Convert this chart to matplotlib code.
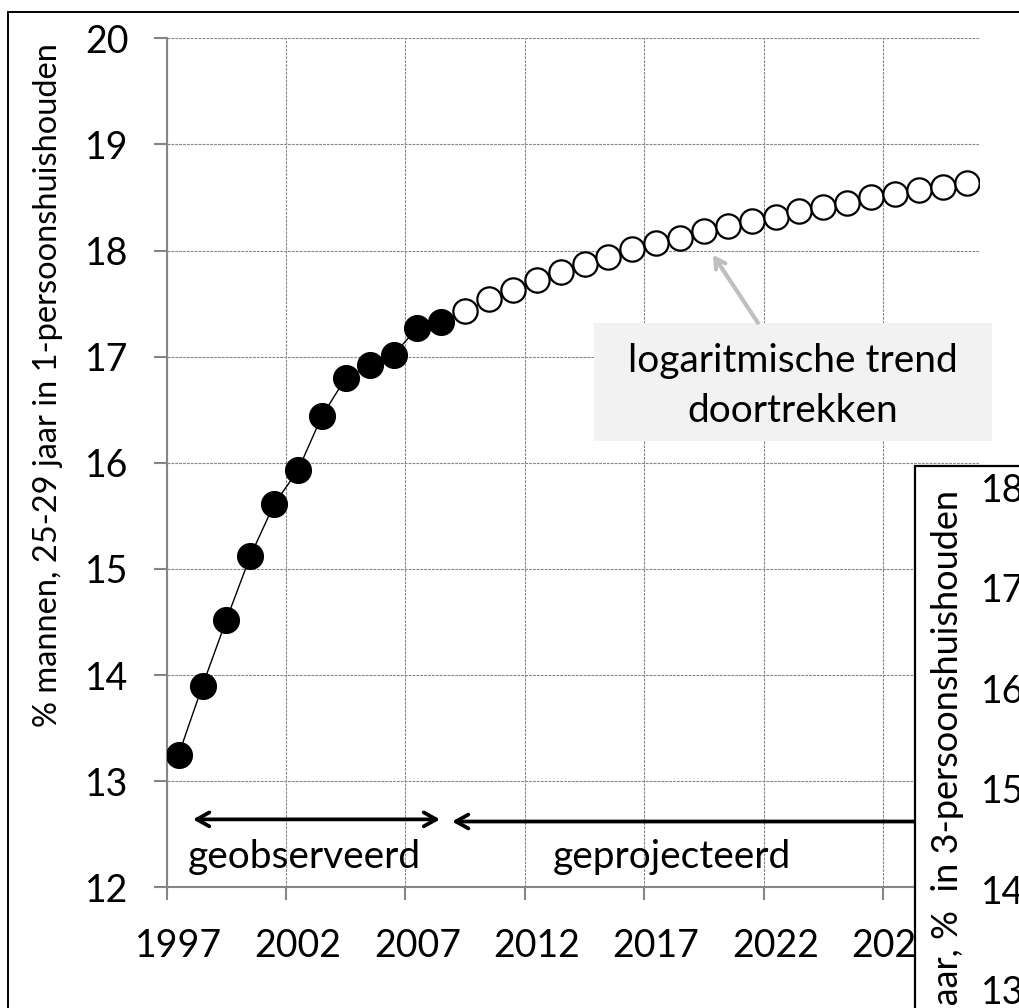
import numpy as np
import matplotlib
matplotlib.use("Agg")
import matplotlib.pyplot as plt
from matplotlib.patches import Rectangle
from matplotlib.ticker import FixedLocator, FixedFormatter, NullFormatter

plt.rcParams['font.family'] = ['Lato', 'DejaVu Sans']

# data: % men aged 25-29 living in a 1-person household
obs_years = list(range(1997, 2009))
obs_values = [13.25, 13.90, 14.52, 15.12, 15.61, 15.93, 16.44, 16.80, 16.92, 17.02, 17.27, 17.33]
proj_years = list(range(2009, 2031))
proj_values = [17.43, 17.54, 17.63, 17.72, 17.80, 17.87, 17.94, 18.01, 18.07, 18.12, 18.18,
               18.23, 18.28, 18.32, 18.37, 18.41, 18.45, 18.50, 18.53, 18.57, 18.60, 18.64]
label_years = [1997, 2002, 2007, 2012, 2017, 2022, 2027]
y_ticks = [12, 13, 14, 15, 16, 17, 18, 19, 20]
inset_ticks = [13, 14, 15, 16, 17, 18]

W, H = 1019, 1008
fig = plt.figure(figsize=(W / 100, H / 100), dpi=100)

def fx(px):
    return px / W

def fy(py):
    return 1 - py / H

grey = '#868686'
ax = fig.add_axes([fx(166.7), fy(887.3), fx(978.5 - 166.7), (887.3 - 38.3) / H])
ax.set_zorder(0)

all_years = obs_years + proj_years
all_values = obs_values + proj_values
ax.plot(all_years, all_values, color='black', lw=1.0, zorder=2)
ax.plot(obs_years, obs_values, 'o', ms=18.5, mfc='black', mec='black', mew=1, zorder=3)
ax.plot(proj_years, proj_values, 'o', ms=17.5, mfc='white', mec='black', mew=1.6, zorder=3)

ax.set_xlim(obs_years[0] - 0.5, proj_years[-1] + 0.5)
ax.set_ylim(y_ticks[0], y_ticks[-1])

# category-style x axis: ticks between categories, labels on categories
ax.xaxis.set_major_locator(FixedLocator([y - 0.5 for y in label_years]))
ax.xaxis.set_major_formatter(NullFormatter())
ax.xaxis.set_minor_locator(FixedLocator(label_years))
ax.xaxis.set_minor_formatter(FixedFormatter([str(y) for y in label_years]))
ax.tick_params(axis='x', which='major', length=9.5, width=1.5, color=grey)
ax.tick_params(axis='x', which='minor', length=0, labelsize=27, pad=29)
ax.set_yticks(y_ticks)
ax.tick_params(axis='y', length=9.5, width=1.5, color=grey, labelsize=27, pad=18)

ax.grid(True, which='major', color=grey, lw=0.8, ls=(0, (2.5, 1)))
for s in ['top', 'right']:
    ax.spines[s].set_visible(False)
for s in ['left', 'bottom']:
    ax.spines[s].set_color(grey)
    ax.spines[s].set_linewidth(1.5)
ax.set_axisbelow(True)

ax.set_ylabel('% mannen, 25-29 jaar in 1-persoonshuishouden', fontsize=23.5)
ax.yaxis.set_label_coords(fx(48), fy(385), transform=fig.transFigure)
ax.yaxis.label.set(ha='center', va='center')

# observed / projected arrows
ax.annotate('', xy=(1997.6, 12.64), xytext=(2007.95, 12.64),
            arrowprops=dict(arrowstyle='<->,head_length=0.9,head_width=0.5', lw=2.7, color='black',
                            shrinkA=0, shrinkB=0), annotation_clip=False)
ax.annotate('', xy=(2008.45, 12.62), xytext=(2035, 12.62),
            arrowprops=dict(arrowstyle='->,head_length=0.9,head_width=0.5', lw=2.7, color='black',
                            shrinkA=0, shrinkB=0), annotation_clip=False)
ax.text(2002.28, 12.29, 'geobserveerd', fontsize=28, ha='center', va='center')
ax.text(2017.64, 12.29, 'geprojecteerd', fontsize=28, ha='center', va='center')

# trend note
ax.add_patch(Rectangle((fx(594), fy(441)), fx(992 - 594), (441 - 323) / H, transform=fig.transFigure,
                       fc='#f2f2f2', ec='none', clip_on=False, zorder=5))
ax.text(fx(793), fy(386), 'logaritmische trend\ndoortrekken', fontsize=28, ha='center', va='center',
        linespacing=1.45, zorder=6, transform=fig.transFigure)
ax.annotate('', xy=(2019.38, 17.96), xytext=(2021.26, 17.32),
            arrowprops=dict(arrowstyle='->,head_length=0.7,head_width=0.4', lw=3, color='#bfbfbf',
                            shrinkA=0, shrinkB=0), zorder=6)

# outer chart frame
fig.patches.append(Rectangle((fx(8.3), fy(1100)), 1.2, fy(11.7) - fy(1100), transform=fig.transFigure,
                             fc='none', ec='black', lw=1.4, zorder=0.5))

# second chart overlapping in the lower right corner
fig.patches.append(Rectangle((fx(915), fy(1100)), 0.5, fy(466) - fy(1100), transform=fig.transFigure,
                             fc='white', ec='black', lw=1.6, zorder=1))
ax2 = fig.add_axes([fx(1040), fy(990), 0.3, (990 - 487) / H])
ax2.set_zorder(2)
ax2.patch.set_visible(False)
for s in ax2.spines.values():
    s.set_visible(False)
ax2.set_ylim(inset_ticks[0], inset_ticks[-1])
ax2.set_yticks(inset_ticks)
ax2.set_xticks([])
ax2.tick_params(axis='y', length=0, labelsize=27, pad=11)
ax2.set_ylabel('% vrouwen, 25-29 jaar, %  in 3-persoonshuishouden', fontsize=26)
ax2.yaxis.set_label_coords(fx(947), fy(490), transform=fig.transFigure)
ax2.yaxis.label.set(ha='right', va='center')

fig.savefig('out.png', dpi=100)
